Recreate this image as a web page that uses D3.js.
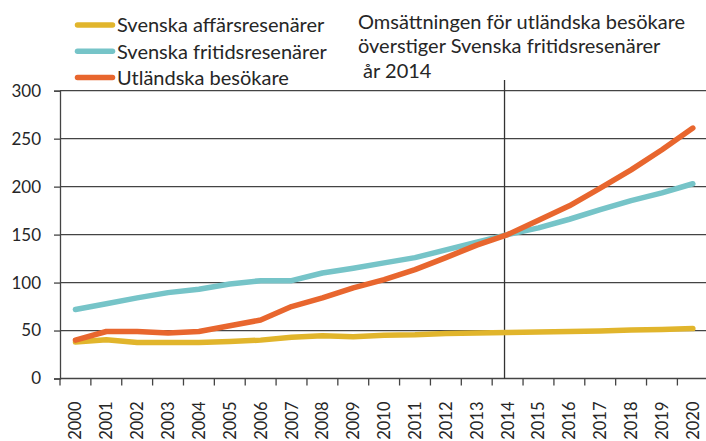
<!DOCTYPE html>
<html>
<head>
<meta charset="utf-8">
<script src="https://cdn.jsdelivr.net/npm/d3@7"></script>
<style>
  body { margin: 0; background: #fff; }
  text { fill: #262626; }
</style>
</head>
<body>
<svg id="chart" width="706" height="441"></svg>
<script>
// values (index, 2000-2020)
var years = ["2000","2001","2002","2003","2004","2005","2006","2007","2008","2009","2010",
             "2011","2012","2013","2014","2015","2016","2017","2018","2019","2020"];
var affars  = [38, 40.5, 37.5, 37.5, 37.5, 38.5, 40, 43, 44.5, 43.5, 45, 45.5, 47, 47.5, 48, 48.5, 49, 49.5, 50.5, 51, 52];
var fritids = [72, 78, 84, 89.5, 93, 98.5, 102, 102, 110, 115, 120.5, 126, 134, 142, 150, 157, 166, 176, 185.5, 193.5, 203];
var utland  = [40, 49, 49, 47.5, 49, 55, 61, 75, 84, 94.5, 103, 113.5, 126, 139, 150, 165, 180, 198.5, 217.5, 238.5, 261];
var yTicks = [0, 50, 100, 150, 200, 250, 300];
var seriesNames = ["Svenska affärsresenärer", "Svenska fritidsresenärer", "Utländska besökare"];
var colors = ["#E1B52C", "#76C4C8", "#E8662E"];
var markYear = "2014";
var note = ["Omsättningen för utländska besökare", "överstiger Svenska fritidsresenärer", " år 2014"];

var svg = d3.select("#chart");
var plotLeft = 60, plotBottom = 378.5, plotTop = 90.7, bandW = 30.87;

var x = d3.scaleBand()
  .domain(years)
  .range([plotLeft, plotLeft + years.length * bandW]);
var y = d3.scaleLinear()
  .domain([0, 300])
  .range([plotBottom, plotTop]);

// gridlines
svg.append("g").selectAll("line")
  .data(yTicks.slice(1))
  .enter().append("line")
    .attr("x1", plotLeft).attr("x2", 706)
    .attr("y1", function(d) { return y(d); })
    .attr("y2", function(d) { return y(d); })
    .attr("stroke", "#444").attr("stroke-width", 1.3);

// y axis
var yAxis = svg.append("g")
  .attr("transform", "translate(" + plotLeft + ",0)")
  .call(d3.axisLeft(y).tickValues(yTicks).tickSize(6).tickPadding(13));
yAxis.select(".domain").attr("stroke", "#444").attr("stroke-width", 1.3);
yAxis.selectAll(".tick line").attr("stroke", "#444").attr("stroke-width", 1.3);
yAxis.selectAll("text")
  .style("font-family", "Lato, sans-serif")
  .style("font-size", "17px")
  .attr("fill", "#262626");

// x axis: ticks on band boundaries
svg.append("line")
  .attr("x1", plotLeft).attr("x2", 706)
  .attr("y1", plotBottom).attr("y2", plotBottom)
  .attr("stroke", "#444").attr("stroke-width", 1.3);
svg.append("g").selectAll("line")
  .data(years)
  .enter().append("line")
    .attr("x1", function(d) { return x(d); })
    .attr("x2", function(d) { return x(d); })
    .attr("y1", plotBottom).attr("y2", plotBottom + 7)
    .attr("stroke", "#444").attr("stroke-width", 1.3);
svg.append("g").selectAll("text")
  .data(years)
  .enter().append("text")
    .attr("transform", function(d) {
      return "translate(" + (x(d) + x.bandwidth() / 2 + 6) + "," + (plotBottom + 23) + ") rotate(-90)";
    })
    .attr("text-anchor", "end")
    .style("font-family", "Lato, sans-serif")
    .style("font-size", "16.5px")
    .text(function(d) { return d; });

// marker line at 2014
svg.append("line")
  .attr("x1", x(markYear) + x.bandwidth() * 0.4)
  .attr("x2", x(markYear) + x.bandwidth() * 0.4)
  .attr("y1", 80).attr("y2", plotBottom)
  .attr("stroke", "#333").attr("stroke-width", 1.3);

// series lines
var line = d3.line()
  .x(function(d, i) { return x(years[i]) + x.bandwidth() / 2; })
  .y(function(d) { return y(d); });

[affars, fritids, utland].forEach(function(s, i) {
  svg.append("path")
    .datum(s)
    .attr("d", line)
    .attr("fill", "none")
    .attr("stroke", colors[i])
    .attr("stroke-width", 5.5)
    .attr("stroke-linecap", "round")
    .attr("stroke-linejoin", "round");
});

// legend
var legend = svg.append("g").selectAll("g")
  .data(seriesNames)
  .enter().append("g")
    .attr("transform", function(d, i) { return "translate(0," + (25 + i * 26.3) + ")"; });
legend.append("line")
  .attr("x1", 77.5).attr("x2", 112.5)
  .attr("stroke", function(d, i) { return colors[i]; })
  .attr("stroke-width", 5.5)
  .attr("stroke-linecap", "round");
legend.append("text")
  .attr("x", 117).attr("dy", "0.36em")
  .style("font-family", "Lato, sans-serif")
  .style("font-size", "20px")
  .text(function(d) { return d; });

// annotation
svg.append("g").selectAll("text")
  .data(note)
  .enter().append("text")
    .attr("x", 358)
    .attr("y", function(d, i) { return 21.5 + i * 24.5; })
    .attr("dy", "0.36em")
    .attr("xml:space", "preserve")
    .style("white-space", "pre")
    .style("font-family", "Lato, sans-serif")
    .style("font-size", "20px")
    .text(function(d) { return d; });
</script>
</body>
</html>
